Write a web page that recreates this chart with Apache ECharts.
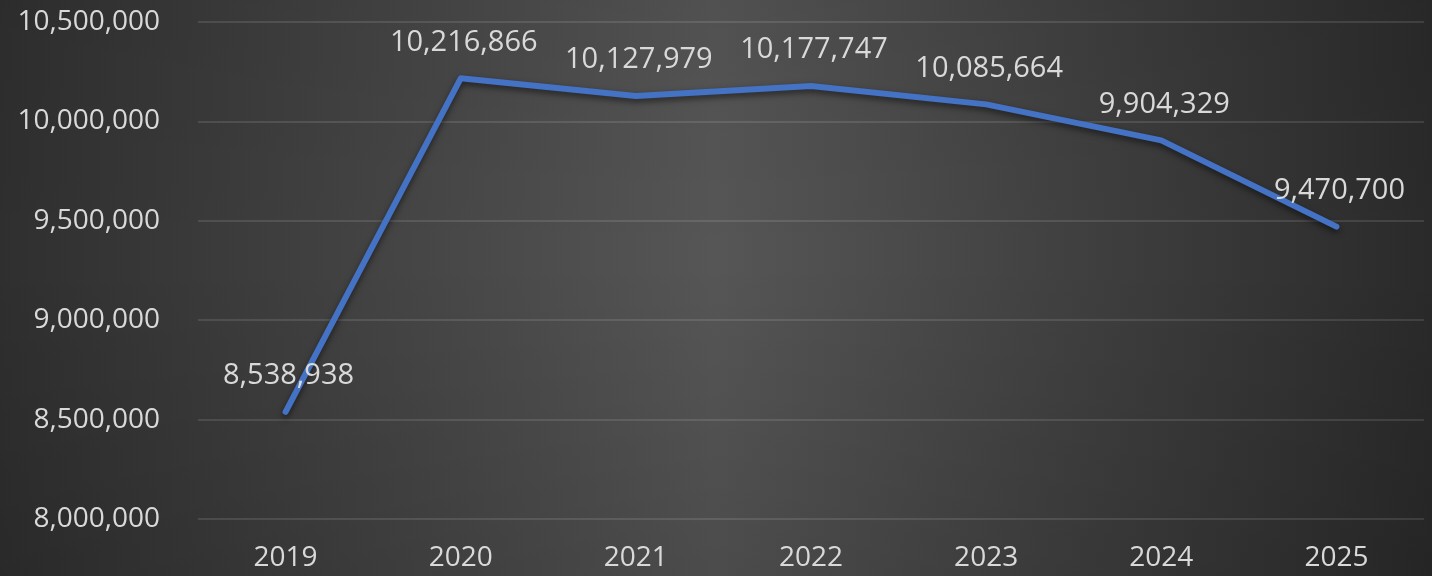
<!DOCTYPE html>
<html>
<head>
<meta charset="utf-8">
<style>
  html, body { margin: 0; padding: 0; }
  #chart { width: 1432px; height: 576px; }
</style>
<script src="https://cdn.jsdelivr.net/npm/echarts@6/dist/echarts.min.js"></script>
</head>
<body>
<div id="chart"></div>
<script>
// data
const years = ['2019', '2020', '2021', '2022', '2023', '2024', '2025'];
const values = [8538938, 10216866, 10127979, 10177747, 10085664, 9904329, 9470700];
const yMin = 8000000;
const yMax = 10500000;
const yStep = 500000;

(function () {
    let myChart = echarts.init(document.getElementById('chart'));
    const fmt = v => Number(v).toLocaleString('en-US');
    const font = '"Open Sans", "Noto Sans", sans-serif';

    let option = {
        animation: false,
        // dark background, lighter in the middle
        backgroundColor: new echarts.graphic.LinearGradient(0, 0, 1, 0, [
            { offset: 0, color: '#2f2f2f' },
            { offset: 0.5, color: '#565656' },
            { offset: 1, color: '#2a2a2a' }
        ]),
        // soft darkening toward top and bottom
        graphic: [{
            type: 'rect',
            left: 0, top: 0, z: -10, silent: true,
            shape: { width: 1432, height: 576 },
            style: {
                fill: new echarts.graphic.LinearGradient(0, 0, 0, 1, [
                    { offset: 0, color: 'rgba(0,0,0,0.06)' },
                    { offset: 0.45, color: 'rgba(0,0,0,0)' },
                    { offset: 1, color: 'rgba(0,0,0,0.12)' }
                ])
            }
        }],
        grid: {
            left: 198,
            right: 8,
            top: 22,
            bottom: 57
        },
        xAxis: {
            type: 'category',
            data: years,
            boundaryGap: true,
            axisLine: { show: false },
            axisTick: { show: false },
            axisLabel: {
                color: '#d9d9d9',
                fontSize: 28,
                fontFamily: font,
                margin: 25
            }
        },
        yAxis: {
            type: 'value',
            min: yMin,
            max: yMax,
            interval: yStep,
            axisLine: { show: false },
            axisTick: { show: false },
            axisLabel: {
                color: '#d9d9d9',
                fontSize: 28,
                fontFamily: font,
                margin: 38,
                formatter: fmt
            },
            splitLine: {
                lineStyle: { color: 'rgba(255,255,255,0.11)', width: 2 }
            }
        },
        series: [{
            type: 'line',
            data: values,
            showSymbol: true,
            symbol: 'circle',
            symbolSize: 1,
            itemStyle: { color: 'rgba(0,0,0,0)' },
            lineStyle: {
                color: '#4472c4',
                width: 6,
                cap: 'round',
                join: 'round',
                shadowColor: 'rgba(0,0,0,0.55)',
                shadowBlur: 6,
                shadowOffsetY: 3
            },
            label: {
                show: true,
                position: 'top',
                distance: 21,
                offset: [3, 0],
                color: '#d9d9d9',
                fontSize: 29,
                fontFamily: font,
                formatter: p => fmt(p.value)
            }
        }]
    };
    myChart.setOption(option);

    window.addEventListener('resize', function () {
        myChart.resize();
    });
})();
</script>
</body>
</html>
